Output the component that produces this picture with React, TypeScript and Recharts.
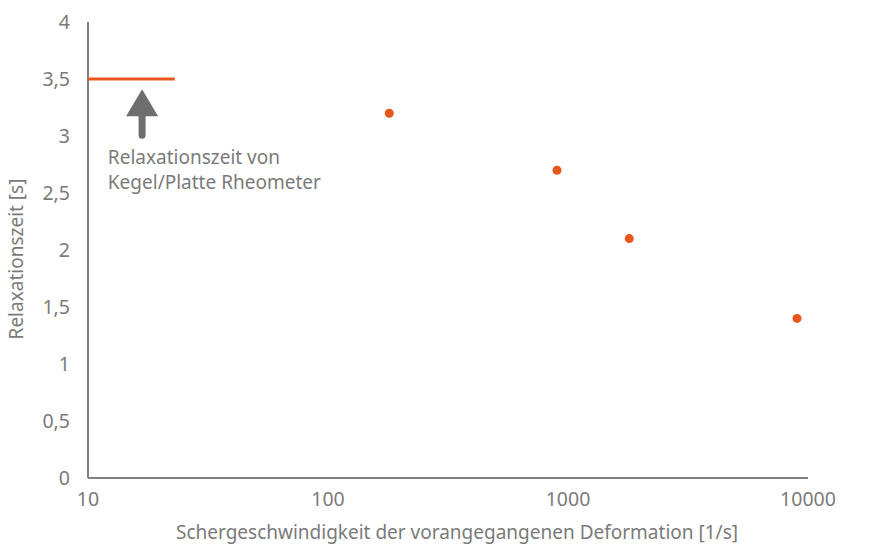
import React from 'react';
import {
  ScatterChart, Scatter, XAxis, YAxis, ReferenceDot, Label
} from 'recharts';

// measured points (shear rate [1/s], relaxation time [s])
const shearRates = [180, 900, 1800, 9000];
const relaxTimes = [3.2, 2.7, 2.1, 1.4];

// cone/plate rheometer reference level
const rheoX = [10, 23];
const rheoY = [3.5, 3.5];

const xTicks = [10, 100, 1000, 10000];
const yTicks = [0, 0.5, 1, 1.5, 2, 2.5, 3, 3.5, 4];

const annotation = ['Relaxationszeit von', 'Kegel/Platte Rheometer'];
const xTitle = 'Schergeschwindigkeit der vorangegangenen Deformation [1/s]';
const yTitle = 'Relaxationszeit [s]';

const points = shearRates.map((x, i) => ({ x, y: relaxTimes[i] }));
const rheoLine = rheoX.map((x, i) => ({ x, y: rheoY[i] }));

const ORANGE = '#e8561e';
const GREY = '#7a7a7a';
const FONT = '"Noto Sans", sans-serif';

const fmt = (v: number) => String(v).replace('.', ',');

const ArrowShape = (props: any) => {
  const { cx, cy } = props;
  // cx, cy = tip of the arrow
  return (
    <g>
      <path d={`M${cx},${cy} L${cx + 16},${cy + 27} L${cx - 16},${cy + 27} Z`} fill="#6e6e6e" />
      <line x1={cx} y1={cy + 26} x2={cx} y2={cy + 46} stroke="#6e6e6e" strokeWidth={7} strokeLinecap="round" />
    </g>
  );
};

const TextShape = (props: any) => {
  const { cx, cy } = props;
  return (
    <text x={cx} y={cy} fill={GREY} fontSize={19} fontFamily={FONT}>
      {annotation.map((t, i) => (
        <tspan key={i} x={cx} dy={i === 0 ? 0 : 25}>{t}</tspan>
      ))}
    </text>
  );
};

const XTitle = (props: any) => {
  const { viewBox } = props;
  const x = viewBox.x + viewBox.width / 2 + 9;
  const y = viewBox.y + viewBox.height - 15;
  return (
    <text x={x} y={y} textAnchor="middle" fill={GREY} fontSize={19} fontFamily={FONT}>{xTitle}</text>
  );
};

const YTitle = (props: any) => {
  const { viewBox } = props;
  const x = 23;
  const y = viewBox.y + viewBox.height / 2 + 9;
  return (
    <text x={x} y={y} transform={`rotate(-90 ${x} ${y})`} textAnchor="middle" fill={GREY} fontSize={19} fontFamily={FONT}>{yTitle}</text>
  );
};

const Dot = (props: any) => <circle cx={props.cx} cy={props.cy} r={4.5} fill={ORANGE} />;
const NoDot = () => null;

export default function App() {
  return (
    <div style={{ position: 'absolute', left: 0, top: 0, background: '#fff' }}>
      <ScatterChart width={888} height={554} margin={{ top: 22, right: 80, bottom: 0, left: 0 }}>
        <XAxis
          dataKey="x"
          type="number"
          scale="log"
          domain={[10, 10000]}
          ticks={xTicks}
          allowDataOverflow
          axisLine={{ stroke: '#808080', strokeWidth: 2 }}
          tickLine={false}
          tick={{ fill: GREY, fontSize: 19.5, fontFamily: FONT }}
          tickMargin={8}
          height={76}
        >
          <Label content={XTitle} />
        </XAxis>
        <YAxis
          dataKey="y"
          type="number"
          domain={[0, 4]}
          ticks={yTicks}
          tickFormatter={fmt}
          axisLine={{ stroke: '#808080', strokeWidth: 2 }}
          tickLine={false}
          tick={{ fill: GREY, fontSize: 19.5, fontFamily: FONT }}
          tickMargin={12}
          width={88}
        >
          <Label content={YTitle} />
        </YAxis>
        <Scatter
          data={rheoLine}
          line={{ stroke: ORANGE, strokeWidth: 3 }}
          shape={NoDot}
          isAnimationActive={false}
        />
        <Scatter data={points} fill={ORANGE} shape={Dot} isAnimationActive={false} />
        <ReferenceDot x={16.8} y={3.41} shape={ArrowShape} ifOverflow="visible" />
        <ReferenceDot x={12.1} y={2.755} shape={TextShape} ifOverflow="visible" />
      </ScatterChart>
    </div>
  );
}
